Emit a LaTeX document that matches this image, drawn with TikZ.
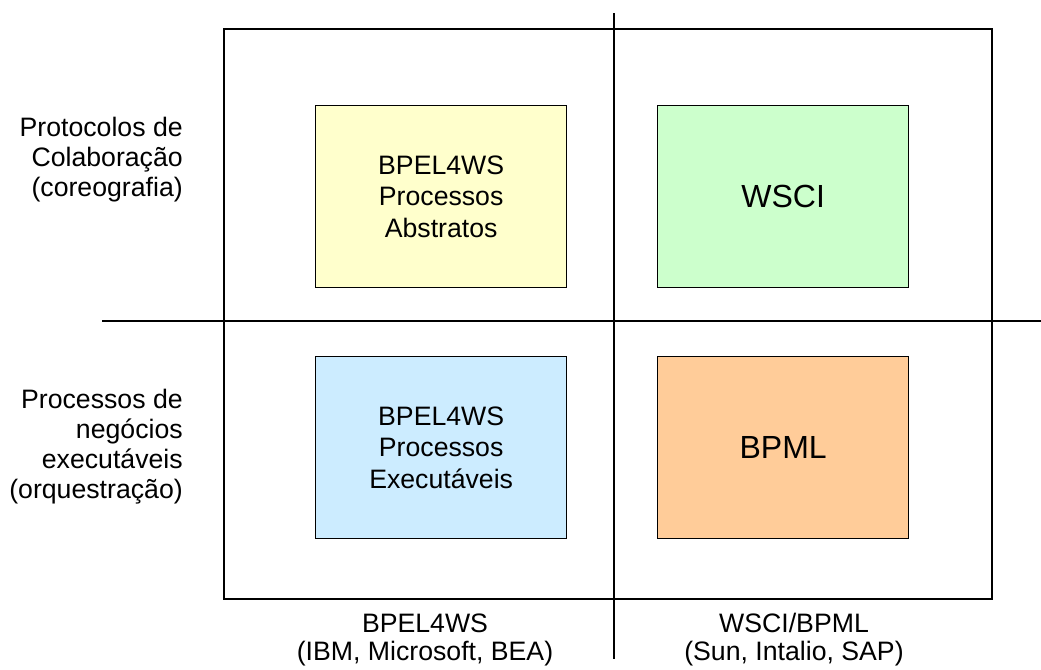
\documentclass[tikz,border=0pt]{standalone}
\usepackage{fontspec}
\setmainfont{Liberation Sans}
\definecolor{amarelo}{HTML}{FFFFCC}
\definecolor{verde}{HTML}{CCFFCC}
\definecolor{azul}{HTML}{CCECFF}
\definecolor{laranja}{HTML}{FFCC99}
\begin{document}
\begin{tikzpicture}[x=0.75pt,y=-0.75pt]
                \tikzstyle{every node}+=[inner sep=0pt]
                \tikzstyle{linha}=[line width=1pt]
                \tikzstyle{caixa}=[draw,line width=1pt,anchor=north west,align=center,minimum width=188.25pt,minimum height=136.5pt,font=\fontsize{20}{23.5}\selectfont]
                \tikzstyle{grande}=[font=\fontsize{24}{28}\selectfont]
                \tikzstyle{rotulo}=[align=right,anchor=east,font=\fontsize{20}{22.5}\selectfont]
                \tikzstyle{eixo}=[align=center,font=\fontsize{20}{21}\selectfont]
                \useasboundingbox (0,0) rectangle (1041,669);
                \fill [white](0,0) rectangle (1041,669);
                % quadro e eixos
                \draw [linha](224,29) rectangle (992,599);
                \coordinate (topo) at (614,13);
                \coordinate (base) at (614,659);
                \coordinate (esq) at (102,321);
                \coordinate (dir) at (1041,321);
                \draw [linha](topo) -- (base);
                \draw [linha](esq) -- (dir);
                % caixas
                \node [caixa,fill=amarelo](abstratos) at (315,105) {BPEL4WS\\Processos\\Abstratos};
                \node [caixa,fill=verde,grande](wsci) at (657,105) {WSCI};
                \node [caixa,fill=azul](executaveis) at (315,356) {BPEL4WS\\Processos\\Executáveis};
                \node [caixa,fill=laranja,grande](bpml) at (657,356) {BPML};
                % rotulos
                \node [rotulo](colaboracao) at (183,160) {Protocolos de\\Colaboração\\(coreografia)};
                \node [rotulo](orquestracao) at (183,447) {Processos de\\negócios\\executáveis\\(orquestração)};
                \node [eixo](ibm) at (425,640) {BPEL4WS\\(IBM, Microsoft, BEA)};
                \node [eixo](sun) at (794,640) {WSCI/BPML\\(Sun, Intalio, SAP)};
            \end{tikzpicture}
\end{document}
